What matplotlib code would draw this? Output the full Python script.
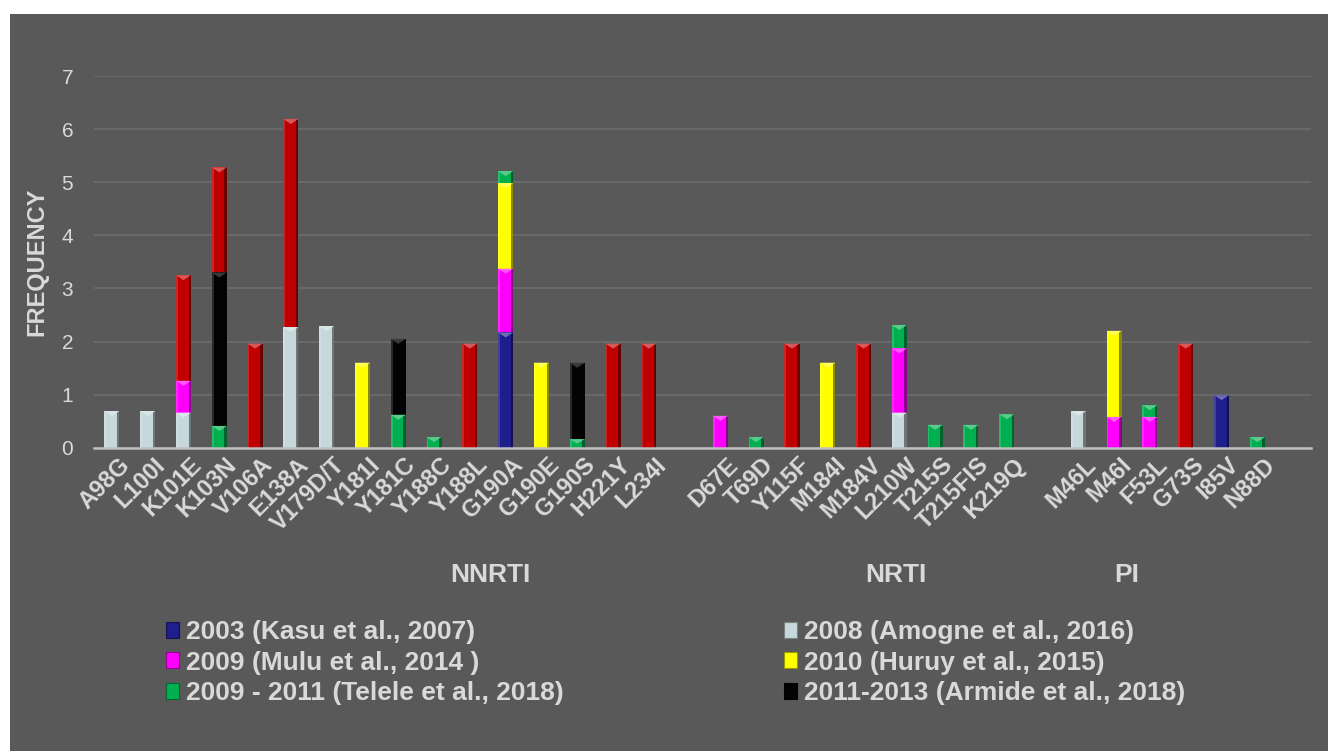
import matplotlib
matplotlib.use("Agg")
import matplotlib.pyplot as plt
import matplotlib.colors as mcolors
import matplotlib.transforms as mtransforms
from matplotlib.patches import Rectangle, Polygon
from matplotlib.font_manager import FontProperties
import numpy as np

# ---- data -------------------------------------------------------------
mutations = ['A98G', 'L100I', 'K101E', 'K103N', 'V106A', 'E138A', 'V179D/T',
             'Y181I', 'Y181C', 'Y188C', 'Y188L', 'G190A', 'G190E', 'G190S',
             'H221Y', 'L234I', '',
             'D67E', 'T69D', 'Y115F', 'M184I', 'M184V', 'L210W', 'T215S',
             'T215FIS', 'K219Q', '',
             'M46L', 'M46I', 'F53L', 'G73S', 'I85V', 'N88D', '']

drug_classes = ['NNRTI', 'NRTI', 'PI']

s2003 = [0, 0, 0, 0, 0, 0, 0, 0, 0, 0, 0, 2.17, 0, 0, 0, 0, 0,
         0, 0, 0, 0, 0, 0, 0, 0, 0, 0,
         0, 0, 0, 0, 0.99, 0, 0]
s2008 = [0.69, 0.69, 0.66, 0, 0, 2.27, 2.29, 0, 0, 0, 0, 0, 0, 0, 0, 0, 0,
         0, 0, 0, 0, 0, 0.66, 0, 0, 0, 0,
         0.69, 0, 0, 0, 0, 0, 0]
s2009 = [0, 0, 0.60, 0, 0, 0, 0, 0, 0, 0, 0, 1.20, 0, 0, 0, 0, 0,
         0.60, 0, 0, 0, 0, 1.21, 0, 0, 0, 0,
         0, 0.58, 0.58, 0, 0, 0, 0]
s2010 = [0, 0, 0, 0, 0, 0, 0, 1.60, 0, 0, 0, 1.61, 1.60, 0, 0, 0, 0,
         0, 0, 0, 1.60, 0, 0, 0, 0, 0, 0,
         0, 1.62, 0, 0, 0, 0, 0]
s2009_2011 = [0, 0, 0, 0.41, 0, 0, 0, 0, 0.62, 0.20, 0, 0.23, 0, 0.16, 0, 0, 0,
              0, 0.20, 0, 0, 0, 0.44, 0.43, 0.43, 0.63, 0,
              0, 0, 0.22, 0, 0, 0.20, 0]
s2011_2013 = [0, 0, 0, 2.89, 0, 0, 0, 0, 1.43, 0, 0, 0, 0, 1.44, 0, 0, 0,
              0, 0, 0, 0, 0, 0, 0, 0, 0, 0,
              0, 0, 0, 0, 0, 0, 0]
s_other = [0, 0, 1.99, 1.98, 1.96, 3.92, 0, 0, 0, 0, 1.96, 0, 0, 0, 1.96, 1.96, 0,
           0, 0, 1.96, 0, 1.96, 0, 0, 0, 0, 0,
           0, 0, 0, 1.96, 0, 0, 0]

series_labels = ['2003 (Kasu et al., 2007)', '2008 (Amogne et al., 2016)',
                 '2009 (Mulu et al., 2014 )', '2010 (Huruy et al., 2015)',
                 '2009 - 2011 (Telele et al., 2018)',
                 '2011-2013 (Armide et al., 2018)', '_other']
series_values = [s2003, s2008, s2009, s2010, s2009_2011, s2011_2013, s_other]
series_colors = ['#1e1e8c', '#c6d8db', '#ff00ff', '#ffff00', '#00b050',
                 '#030303', '#c00000']

# ---- styling ----------------------------------------------------------
BG = '#595959'
TXT = '#d9d9d9'
W, H = 1328, 751

plt.rcParams['font.family'] = ['Liberation Sans', 'DejaVu Sans']


def shade(color, amount):
    """Blend colour toward white (amount>0) or black (amount<0)."""
    r, g, b = mcolors.to_rgb(color)
    if amount >= 0:
        return (r + (1 - r) * amount, g + (1 - g) * amount, b + (1 - b) * amount)
    a = -amount
    return (r * (1 - a), g * (1 - a), b * (1 - a))


fig = plt.figure(figsize=(W / 100, H / 100), dpi=100, facecolor='white')
fig.patches.append(Rectangle((10 / W, 0), 1, 1 - 14 / H, transform=fig.transFigure,
                             facecolor=BG, edgecolor='none', zorder=-10))

ax = fig.add_axes([94 / W, 1 - 447.7 / H, (1311 - 94) / W, (447.7 - 76) / H])
ax.set_facecolor(BG)
ax.patch.set_alpha(0)

x = np.arange(len(mutations))
bar_w = 0.42
bottom = np.zeros(len(mutations))

# pixel height of the bevel triangle expressed in data units
tri_h = 5.0 / ((447.7 - 76) / 7.0)

for vals, col in zip(series_values, series_colors):
    vals = np.asarray(vals, dtype=float)
    ax.bar(x, vals, width=bar_w, bottom=bottom, color=col,
           edgecolor='none', zorder=3)
    # darker right rim and lighter left rim for a bevelled look
    ax.bar(x + bar_w * 0.42, vals, width=bar_w * 0.16, bottom=bottom,
           color=shade(col, -0.45), edgecolor='none', zorder=4)
    ax.bar(x - bar_w * 0.44, vals, width=bar_w * 0.12, bottom=bottom,
           color=shade(col, 0.15), edgecolor='none', zorder=4)
    hl = shade(col, 0.35) if col != '#030303' else '#3a3a3a'
    for xi, v, b in zip(x, vals, bottom):
        if v <= 0:
            continue
        top = b + v
        th = min(tri_h, v * 0.5)
        ax.add_patch(Polygon([(xi - bar_w / 2, top), (xi + bar_w / 2, top),
                              (xi, top - th)], closed=True,
                             facecolor=hl, edgecolor='none', zorder=5))
    bottom = bottom + vals

ax.set_xlim(-0.5, len(mutations) - 0.5)
ax.set_ylim(0, 7)
ax.set_yticks(range(0, 8))
ax.yaxis.grid(True, color='#6f6f6f', linewidth=1.1)
ax.set_axisbelow(True)
for s in ['top', 'right', 'left']:
    ax.spines[s].set_visible(False)
ax.spines['bottom'].set_color('#bfbfbf')
ax.spines['bottom'].set_linewidth(1.8)
ax.spines['bottom'].set_zorder(6)

ax.tick_params(axis='y', length=0, pad=15, labelsize=15, labelcolor=TXT)
ax.tick_params(axis='x', length=0, pad=4)
ax.set_xticks(x)
ax.set_xticklabels(mutations, rotation=45, ha='right', va='top',
                   rotation_mode='anchor', fontsize=17, fontweight='bold',
                   color=TXT)
offset = mtransforms.ScaledTranslation(6 / 100, 0, fig.dpi_scale_trans)
for lab in ax.get_xticklabels():
    lab.set_transform(lab.get_transform() + offset)

ax.set_ylabel('FREQUENCY', fontsize=17, fontweight='bold', color=TXT)
ax.yaxis.set_label_coords(-46 / (1311 - 94), 0.5)

# drug-class group captions below the mutation labels
grp_trans = mtransforms.blended_transform_factory(ax.transData, fig.transFigure)
for pos, name in zip([10.56, 21.9, 28.35], drug_classes):
    ax.text(pos, 1 - 575 / H, name, transform=grp_trans, ha='center',
            va='center', fontsize=19, fontweight='bold', color=TXT)

# legend (row-major order of the six study series)
handles = {}
for lab, col in zip(series_labels[:6], series_colors[:6]):
    handles[lab] = Rectangle((0, 0), 1, 1, facecolor=col,
                             edgecolor=shade(col, -0.4), linewidth=0.8)
order = [0, 2, 4, 1, 3, 5]
leg = fig.legend([handles[series_labels[i]] for i in order],
                 [series_labels[i] for i in order],
                 ncol=2, loc='upper left', bbox_to_anchor=(166 / W, 1 - 620 / H),
                 frameon=False, borderpad=0, borderaxespad=0,
                 handlelength=0.5, handleheight=0.55, handletextpad=0.25,
                 columnspacing=8.35, labelspacing=0.25,
                 prop=FontProperties(family='Liberation Sans', weight='bold',
                                     size=19))
for t in leg.get_texts():
    t.set_color(TXT)

fig.savefig('out.png', dpi=100, facecolor='white')
